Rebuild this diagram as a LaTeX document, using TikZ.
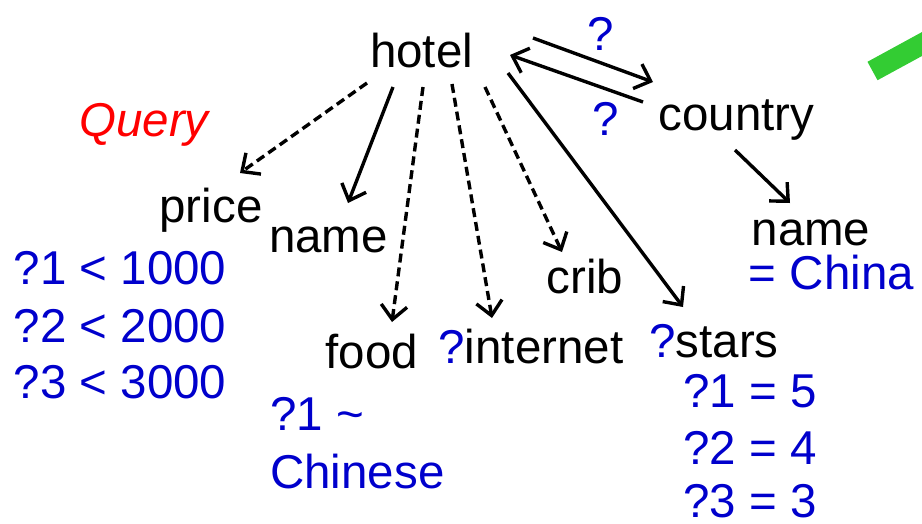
\documentclass[tikz,border=0pt]{standalone}
\usepackage{fontspec}
\setmainfont{Liberation Sans}
\usetikzlibrary{arrows.meta}
\definecolor{qblue}{RGB}{0,0,204}
\definecolor{qgreen}{RGB}{51,204,51}
\tikzset{
  lbl/.style={inner sep=0pt, anchor=base, font=\fontsize{47.5}{56}\selectfont},
  lblw/.style={lbl, anchor=base west},
  val/.style={lbl, text=qblue},
  valw/.style={lblw, text=qblue},
  edge/.style={line width=3.4pt, -{Straight Barb[length=14pt,width=26pt]}},
  optedge/.style={edge, dash pattern=on 9pt off 5pt},
}
\begin{document}
\begin{tikzpicture}[x=1pt,y=-1pt]
\useasboundingbox (0,0) rectangle (922,523);
\clip (0,0) rectangle (922,523);
% nodes
\node[lbl] (hotel) at (421.5,67) {hotel};
\node[lbl] (country) at (736.5,130) {country};
\node[lbl, text=red, font=\fontsize{47.5}{56}\selectfont\itshape] (query) at (144,136) {Query};
\node[lbl] (price) at (211,222) {price};
\node[lbl] (name) at (328.5,252) {name};
\node[lbl] (cname) at (811,245) {name};
\node[val] (china) at (831.5,289) {= China};
\node[lbl] (crib) at (585,293) {crib};
\node[lbl] (food) at (372,368) {food};
\node[lbl] (internet) at (531,363) {{\color{qblue}?}internet};
\node[lbl] (stars) at (714,357) {{\color{qblue}?}stars};
\node[val] (s1) at (750,407) {?1 = 5};
\node[val] (s2) at (750,464) {?2 = 4};
\node[val] (s3) at (750,517) {?3 = 3};
\node[val] (p1) at (120,284) {?1 < 1000};
\node[val] (p2) at (120,342) {?2 < 2000};
\node[val] (p3) at (120,398) {?3 < 3000};
\node[valw] (f1) at (270,430) {?1 \textasciitilde};
\node[valw] (f2) at (270,488) {Chinese};
\node[val] (qtop) at (601,50) {?};
\node[val] (qbot) at (606,135) {?};
% connectors
\draw[optedge] ([xshift=-54.5pt,yshift=-16pt]hotel.base) -- ([xshift=29pt,yshift=49pt]price.base);
\draw[edge] ([xshift=-28.5pt,yshift=-20pt]hotel.base) -- ([xshift=19.5pt,yshift=49pt]name.base);
\draw[optedge] ([xshift=1.5pt,yshift=-20pt]hotel.base) -- ([xshift=20pt,yshift=46pt]food.base);
\draw[optedge] ([xshift=30.5pt,yshift=-17pt]hotel.base) -- ([xshift=-39pt,yshift=45pt]internet.base);
\draw[optedge] ([xshift=63.5pt,yshift=-20pt]hotel.base) -- ([xshift=-23pt,yshift=41pt]crib.base);
\draw[edge] ([xshift=86.5pt,yshift=-6pt]hotel.base) -- ([xshift=-31pt,yshift=50pt]stars.base);
\draw[edge] ([xshift=111.5pt,yshift=29pt]hotel.base) -- ([xshift=-83.5pt,yshift=48pt]country.base);
\draw[edge] ([xshift=-93.5pt,yshift=28pt]country.base) -- ([xshift=88.5pt,yshift=12pt]hotel.base);
\draw[edge] ([xshift=-1.5pt,yshift=-20pt]country.base) -- ([xshift=-21pt,yshift=42pt]cname.base);
% green mark
\draw[qgreen, line width=21pt] (872.5,71) -- (960,23.3);
\end{tikzpicture}
\end{document}
